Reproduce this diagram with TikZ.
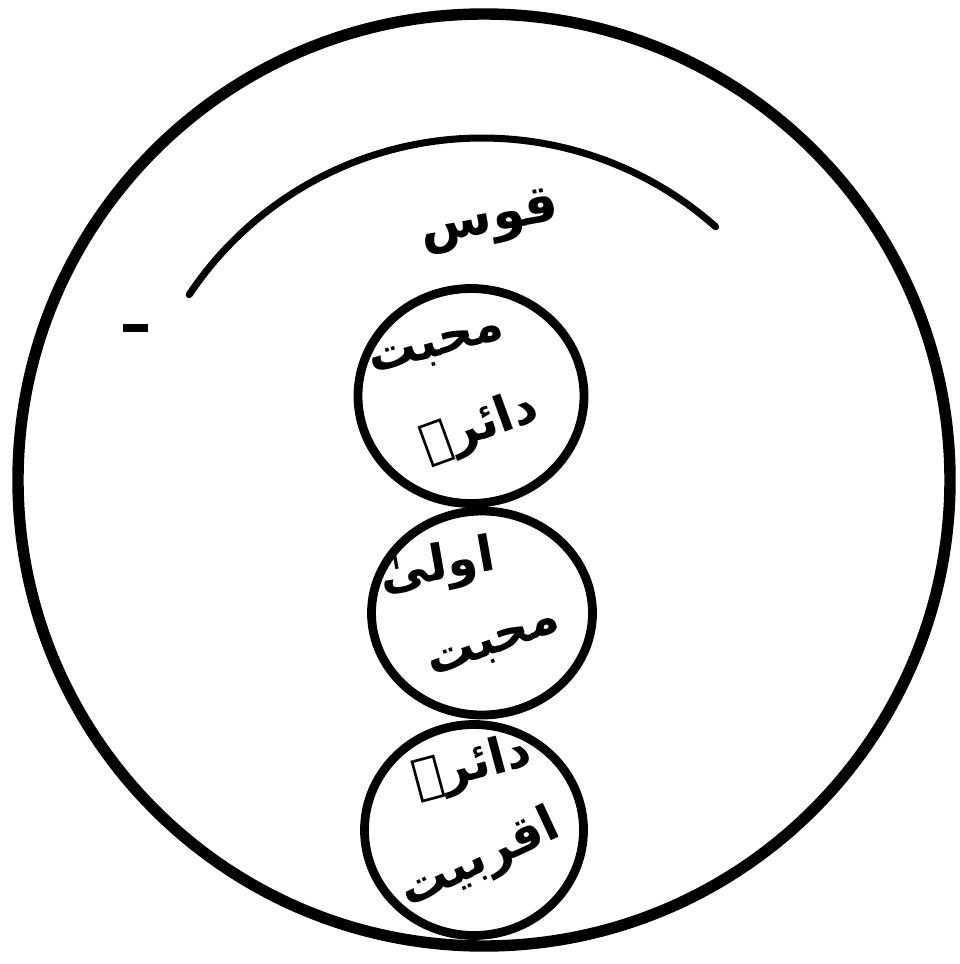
\documentclass[tikz,border=0pt]{standalone}
\usepackage{fontspec}
\usepackage{tikz}
\usetikzlibrary{positioning,shapes.geometric}
\TeXXeTstate=1
\newfontfamily\urdu[Script=Arabic]{DejaVu Sans}
\newcommand{\ur}[1]{\urdu\bfseries\beginR #1\endR}

\begin{document}
\begin{tikzpicture}[rim/.style={line width=6.5pt},
    ring/.style={draw,ellipse,line width=5pt,inner sep=0pt},
    lbl/.style={font=\fontsize{28}{30}\selectfont\urdu\bfseries,inner sep=0pt}]
  \useasboundingbox (0,0) rectangle (19.2,-19.28);
  \draw[rim] (9.68,-9.60) circle[radius=9.32];
  \draw[line width=4pt,line cap=round] (9.64,-9.80) ++(146.3:7.04) arc[start angle=146.3,end angle=48.4,radius=7.04];
  \draw[line width=4.5pt] (2.46,-6.56) -- (2.96,-6.56);
  % three circles, top to bottom
  \foreach \n/\x/\y/\w/\h in {mahabbat/9.42/-7.92/4.52/4.30,awla/9.64/-12.26/4.42/4.08,aqrab/9.48/-16.60/4.38/4.22}
    \node[ring,minimum width=\w cm,minimum height=\h cm] (\n) at (\x,\y) {};
  \node[lbl,font=\fontsize{30}{32}\selectfont\urdu\bfseries,rotate=10] (qaus) at (9.80,-4.44) {\ur{قوس}};
  \node[lbl,rotate=15] (m1) at (8.75,-7.00) {\ur{محبت}};
  \node[lbl,rotate=20] (m2) at (9.60,-8.55) {\ur{دائرہ}};
  \node[lbl,rotate=10] (a1) at (8.75,-11.35) {\ur{اولیٰ}};
  \node[lbl,rotate=20] (a2) at (9.90,-12.95) {\ur{محبت}};
  \node[lbl,rotate=15] (q1) at (9.45,-15.35) {\ur{دائرہ}};
  \node[lbl,rotate=25] (q2) at (9.60,-17.20) {\ur{اقربیت}};
\end{tikzpicture}
\end{document}
